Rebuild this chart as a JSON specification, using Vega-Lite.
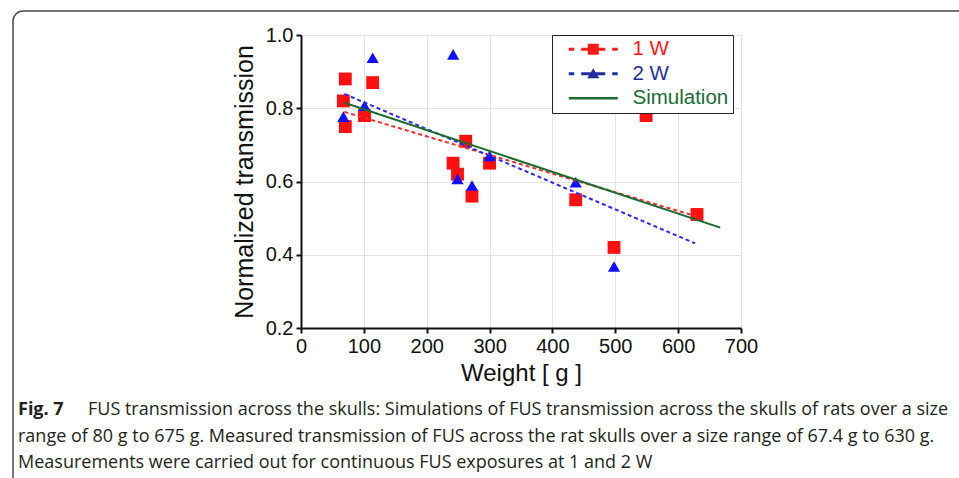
{
  "$schema": "https://vega.github.io/schema/vega-lite/v6.json",
  "width": 440,
  "height": 293,
  "autosize": {"type": "none"},
  "padding": {"left": 301, "top": 35, "right": 218, "bottom": 150},
  "background": "white",
  "config": {
    "view": {"stroke": null},
    "font": "Liberation Sans",
    "axis": {
      "domainColor": "#111",
      "domainWidth": 2,
      "tickColor": "#111",
      "tickWidth": 2,
      "tickSize": 5,
      "labelFont": "Liberation Sans",
      "labelFontSize": 20,
      "labelColor": "#111",
      "labelPadding": 3,
      "labelFlush": false,
      "gridColor": "#e4e4e4",
      "gridWidth": 1,
      "titleFont": "Liberation Sans",
      "titleFontSize": 24,
      "titleFontWeight": "normal",
      "titleColor": "#111"
    }
  },
  "datasets": {
    "points": [
      {"series": "1 W", "weight": 70.5, "transmission": 0.88},
      {"series": "1 W", "weight": 67.4, "transmission": 0.82},
      {"series": "1 W", "weight": 70.5, "transmission": 0.75},
      {"series": "1 W", "weight": 114, "transmission": 0.87},
      {"series": "1 W", "weight": 101, "transmission": 0.78},
      {"series": "1 W", "weight": 242, "transmission": 0.65},
      {"series": "1 W", "weight": 249, "transmission": 0.62},
      {"series": "1 W", "weight": 262, "transmission": 0.71},
      {"series": "1 W", "weight": 272, "transmission": 0.56},
      {"series": "1 W", "weight": 300, "transmission": 0.65},
      {"series": "1 W", "weight": 437, "transmission": 0.55},
      {"series": "1 W", "weight": 498, "transmission": 0.42},
      {"series": "1 W", "weight": 549, "transmission": 0.78},
      {"series": "1 W", "weight": 630, "transmission": 0.51},
      {"series": "2 W", "weight": 67.4, "transmission": 0.777},
      {"series": "2 W", "weight": 114, "transmission": 0.938},
      {"series": "2 W", "weight": 101, "transmission": 0.807},
      {"series": "2 W", "weight": 242, "transmission": 0.947},
      {"series": "2 W", "weight": 249, "transmission": 0.607},
      {"series": "2 W", "weight": 272, "transmission": 0.589},
      {"series": "2 W", "weight": 300, "transmission": 0.67},
      {"series": "2 W", "weight": 437, "transmission": 0.598},
      {"series": "2 W", "weight": 498, "transmission": 0.368}
    ],
    "fits": [
      {"series": "1 W", "weight": 69, "transmission": 0.79},
      {"series": "1 W", "weight": 629, "transmission": 0.505},
      {"series": "2 W", "weight": 69, "transmission": 0.839},
      {"series": "2 W", "weight": 627, "transmission": 0.431},
      {"series": "Simulation", "weight": 69, "transmission": 0.815},
      {"series": "Simulation", "weight": 667, "transmission": 0.474}
    ]
  },
  "layer": [
    {
      "data": {"values": [{"frame": 1}]},
      "mark": {"type": "rect", "filled": false, "stroke": "#4a4a4a", "strokeWidth": 1.5, "cornerRadius": 10},
      "encoding": {
        "x": {"value": -288},
        "x2": {"value": 680},
        "y": {"value": -24},
        "y2": {"value": 470}
      }
    },
    {
      "data": {"name": "points"},
      "transform": [{"filter": "datum.series === '1 W'"}],
      "mark": {"type": "point", "shape": "square", "filled": true, "size": 165, "color": "#ff1010", "opacity": 1},
      "encoding": {
        "x": {
          "field": "weight", "type": "quantitative",
          "scale": {"domain": [0, 700], "nice": false},
          "axis": {"values": [0, 100, 200, 300, 400, 500, 600, 700], "title": "Weight [ g ]", "titlePadding": 5}
        },
        "y": {
          "field": "transmission", "type": "quantitative",
          "scale": {"domain": [0.2, 1.0], "nice": false, "zero": false},
          "axis": {"values": [0.2, 0.4, 0.6, 0.8, 1.0], "format": ".1f", "title": "Normalized transmission", "titleFontSize": 25, "titlePadding": 8}
        }
      }
    },
    {
      "data": {"name": "points"},
      "transform": [{"filter": "datum.series === '2 W'"}],
      "mark": {"type": "point", "shape": "triangle-up", "filled": true, "size": 150, "color": "#1010ff", "opacity": 1},
      "encoding": {
        "x": {"field": "weight", "type": "quantitative"},
        "y": {"field": "transmission", "type": "quantitative"}
      }
    },
    {
      "data": {"name": "fits"},
      "transform": [{"filter": "datum.series === '1 W'"}],
      "mark": {"type": "line", "color": "#ff2a2a", "strokeWidth": 2, "strokeDash": [4, 3]},
      "encoding": {
        "x": {"field": "weight", "type": "quantitative"},
        "y": {"field": "transmission", "type": "quantitative"}
      }
    },
    {
      "data": {"name": "fits"},
      "transform": [{"filter": "datum.series === '2 W'"}],
      "mark": {"type": "line", "color": "#2a2aff", "strokeWidth": 2, "strokeDash": [4, 3]},
      "encoding": {
        "x": {"field": "weight", "type": "quantitative"},
        "y": {"field": "transmission", "type": "quantitative"}
      }
    },
    {
      "data": {"name": "fits"},
      "transform": [{"filter": "datum.series === 'Simulation'"}],
      "mark": {"type": "line", "color": "#1a6b2e", "strokeWidth": 2},
      "encoding": {
        "x": {"field": "weight", "type": "quantitative"},
        "y": {"field": "transmission", "type": "quantitative"}
      }
    },
    {
      "data": {"name": "fits"},
      "transform": [{"filter": "false"}],
      "mark": {"type": "point", "filled": true, "opacity": 1},
      "encoding": {
        "color": {
          "field": "series", "type": "nominal",
          "scale": {"domain": ["1 W", "2 W", "Simulation"], "range": ["#ff1a1a", "#1f2f9f", "#1a6b35"]},
          "legend": {
            "title": null, "orient": "none", "legendX": 251, "legendY": 0,
            "padding": 4, "strokeColor": "#222", "fillColor": "white",
            "symbolSize": 400, "symbolStrokeWidth": 0, "symbolOffset": 27, "symbolOpacity": 1,
            "labelOffset": 29, "labelFontSize": 20.5, "labelFont": "Liberation Sans", "rowPadding": 3.5,
            "encode": {"labels": {"update": {"fill": {"signal": "datum.value === '1 W' ? '#ff1a1a' : datum.value === '2 W' ? '#1f2f9f' : '#1a6b35'"}}}}
          }
        },
        "shape": {
          "field": "series", "type": "nominal",
          "scale": {
            "domain": ["1 W", "2 W", "Simulation"],
            "range": [
              "M-2.45,-0.15H-1.9V0.15H-2.45Z M-1.2,-0.15H1.2V0.15H-1.2Z M1.9,-0.15H2.45V0.15H1.9Z M-0.55,-0.55H0.55V0.55H-0.55Z",
              "M-2.45,-0.15H-1.9V0.15H-2.45Z M-1.2,-0.15H1.2V0.15H-1.2Z M1.9,-0.15H2.45V0.15H1.9Z M-0.6,0.45L0,-0.55L0.6,0.45Z",
              "M-2.45,-0.13H2.45V0.13H-2.45Z"
            ]
          },
          "legend": {
            "title": null, "orient": "none", "legendX": 251, "legendY": 0,
            "padding": 4, "strokeColor": "#222", "fillColor": "white",
            "symbolSize": 400, "symbolStrokeWidth": 0, "symbolOffset": 27, "symbolOpacity": 1,
            "labelOffset": 29, "labelFontSize": 20.5, "labelFont": "Liberation Sans", "rowPadding": 3.5,
            "encode": {"labels": {"update": {"fill": {"signal": "datum.value === '1 W' ? '#ff1a1a' : datum.value === '2 W' ? '#1f2f9f' : '#1a6b35'"}}}}
          }
        }
      }
    },
    {
      "data": {"values": [{"t": "Fig. 7"}]},
      "mark": {"type": "text", "font": "Open Sans", "fontWeight": "bold", "fontSize": 18, "align": "left", "baseline": "middle", "color": "#231f20"},
      "encoding": {"text": {"field": "t"}, "x": {"value": -283}, "y": {"value": 375}}
    },
    {
      "data": {"values": [{"t": "FUS transmission across the skulls: Simulations of FUS transmission across the skulls of rats over a size"}]},
      "mark": {"type": "text", "font": "Open Sans", "fontSize": 18, "align": "left", "baseline": "middle", "color": "#231f20"},
      "encoding": {"text": {"field": "t"}, "x": {"value": -213}, "y": {"value": 375}}
    },
    {
      "data": {"values": [{"t": "range of 80 g to 675 g. Measured transmission of FUS across the rat skulls over a size range of 67.4 g to 630 g."}]},
      "mark": {"type": "text", "font": "Open Sans", "fontSize": 18, "align": "left", "baseline": "middle", "color": "#231f20"},
      "encoding": {"text": {"field": "t"}, "x": {"value": -283}, "y": {"value": 402}}
    },
    {
      "data": {"values": [{"t": "Measurements were carried out for continuous FUS exposures at 1 and 2 W"}]},
      "mark": {"type": "text", "font": "Open Sans", "fontSize": 18, "align": "left", "baseline": "middle", "color": "#231f20"},
      "encoding": {"text": {"field": "t"}, "x": {"value": -283}, "y": {"value": 428}}
    }
  ]
}
